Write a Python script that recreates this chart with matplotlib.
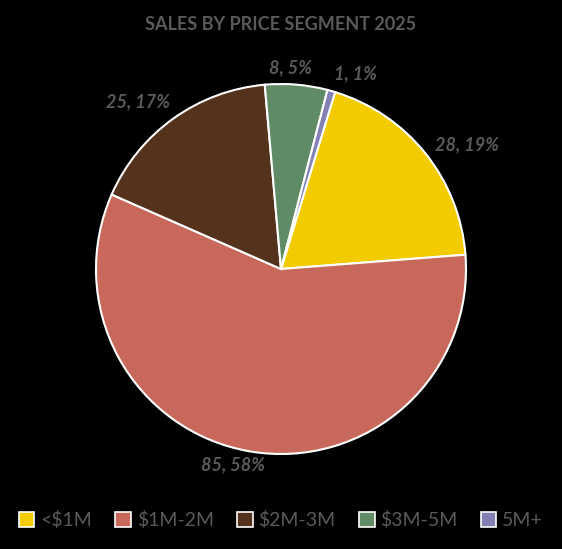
import matplotlib
matplotlib.use("Agg")
import matplotlib.pyplot as plt
import numpy as np

segments = ["<$1M", "$1M-2M", "$2M-3M", "$3M-5M", "5M+"]
sales = [28, 85, 25, 8, 1]
colors = ["#F2CC00", "#C8685A", "#55321B", "#5F8C66", "#8280B4"]

plt.rcParams["font.family"] = ["Lato", "DejaVu Sans"]
gray = "#5a5a5a"

fig = plt.figure(figsize=(5.62, 5.49), dpi=100, facecolor="black")
ax = fig.add_axes([96 / 562, 95 / 549, 370 / 562, 370 / 549])
ax.set_facecolor("black")

wedges, _ = ax.pie(sales, colors=colors, startangle=73, counterclock=False,
                   radius=1, wedgeprops=dict(edgecolor="white", linewidth=1.5))
ax.set_xlim(-1, 1)
ax.set_ylim(-1, 1)
ax.set_aspect("equal")
ax.axis("off")

total = sum(sales)
label_dist = [1.21, 1.09, 1.19, 1.09, 1.13]
label_shift = [-5, -4, 5, 2, -5]
for w, v, d, s in zip(wedges, sales, label_dist, label_shift):
    ang = np.deg2rad((w.theta1 + w.theta2) / 2 + s)
    ax.text(d * np.cos(ang), d * np.sin(ang), f"{v}, {round(v / total * 100)}%",
            ha="center", va="center", color=gray, fontsize=13,
            fontstyle="italic", fontweight="bold")

fig.text(0.5, 1 - 25 / 549, "SALES BY PRICE SEGMENT 2025", ha="center", va="center",
         color=gray, fontsize=13, fontweight="bold")

handles = [plt.Rectangle((0, 0), 1, 1, facecolor=c, edgecolor="white", linewidth=1.2)
           for c in colors]
fig.legend(handles, segments, loc="center", bbox_to_anchor=(0.5, 1 - 520 / 549),
           ncol=5, frameon=False, fontsize=14, labelcolor=gray,
           handlelength=0.8, handleheight=0.8, handletextpad=0.3, columnspacing=1.2)

fig.savefig("out.png", dpi=100, facecolor="black")
